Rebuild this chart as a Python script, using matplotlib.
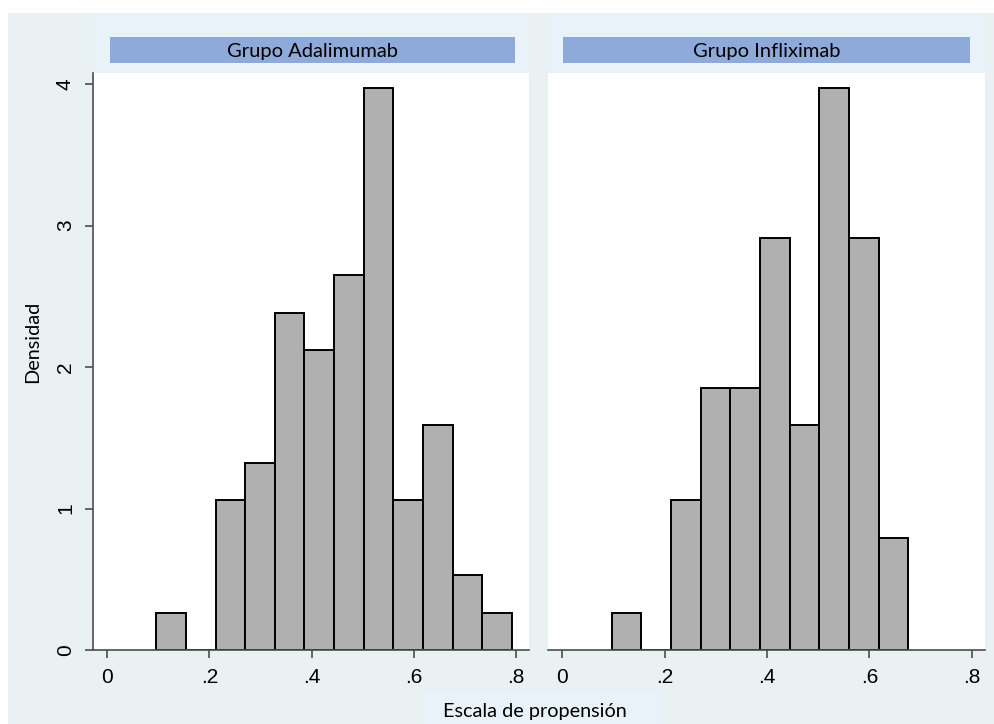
import matplotlib
matplotlib.use("Agg")
import matplotlib.pyplot as plt
from matplotlib.patches import Rectangle
import numpy as np

# datos (densidad por intervalo)
bin_start = 0.0962
bin_width = 0.058
dens_adalimumab = [0.265, 0, 1.06, 1.32, 2.38, 2.12, 2.65, 3.97, 1.06, 1.59, 0.53, 0.265]
dens_infliximab = [0.265, 0, 1.06, 1.85, 1.85, 2.91, 1.59, 3.97, 2.91, 0.79]
grupos = ["Grupo Adalimumab", "Grupo Infliximab"]
xticks = [0, 0.2, 0.4, 0.6, 0.8]
xticklabels = ["0", ".2", ".4", ".6", ".8"]
yticks = [0, 1, 2, 3, 4]

W, H = 994, 724
bg = "#e9f1f3"
light = "#e8f2f8"
strip_col = "#8eaadb"
bar_col = "#b0b0b0"
axis_col = "#4d4d4d"
lab_font = "Lato"
tick_font = "Liberation Sans"

fig = plt.figure(figsize=(W / 100, H / 100), dpi=100)

def px(x0, y0, x1, y1):
    # rectangulo en pixeles -> fraccion de figura
    return (x0 / W, 1 - y1 / H), (x1 - x0) / W, (y1 - y0) / H

def rect(x0, y0, x1, y1, color, z=0):
    xy, w, h = px(x0, y0, x1, y1)
    fig.add_artist(Rectangle(xy, w, h, transform=fig.transFigure,
                             facecolor=color, edgecolor="none", zorder=z))

# fondo
rect(8, 13, W, H, bg)
rect(93, 13, 529, 73, light)
rect(548, 13, 985, 73, light)
rect(423, 690, 662, H, light)

paneles = [(93, 529, dens_adalimumab, 110, 515), (548, 985, dens_infliximab, 563, 970)]

for i, (x0, x1, dens, s0, s1) in enumerate(paneles):
    xy, w, h = px(x0, 73, x1, 650)
    ax = fig.add_axes([xy[0], xy[1], w, h])
    ax.set_facecolor("white")
    edges = bin_start + bin_width * np.arange(len(dens))
    ax.bar(edges, dens, width=bin_width, align="edge", color=bar_col,
           edgecolor="black", linewidth=1.4, zorder=2)
    ax.set_xlim(-0.028, 0.826)
    ax.set_ylim(0, 4.078)
    ax.set_xticks(xticks)
    ax.set_xticklabels(xticklabels, fontfamily=tick_font, fontsize=15)
    for s in ["top", "right"]:
        ax.spines[s].set_visible(False)
    ax.spines["bottom"].set_color(axis_col)
    ax.spines["bottom"].set_linewidth(1.2)
    ax.tick_params(axis="x", length=6, width=1.2, color=axis_col, pad=7)
    if i == 0:
        ax.spines["left"].set_color(axis_col)
        ax.spines["left"].set_linewidth(1.2)
        ax.set_yticks(yticks)
        ax.set_yticklabels([str(v) for v in yticks], fontfamily=tick_font,
                           fontsize=15, rotation=90, va="center")
        ax.tick_params(axis="y", length=6, width=1.2, color=axis_col, pad=7)
    else:
        ax.spines["left"].set_visible(False)
        ax.set_yticks([])
    # franja del titulo
    rect(s0, 37, s1, 63, strip_col, z=1)
    fig.text((s0 + s1) / 2 / W, 1 - 51 / H, grupos[i], ha="center", va="center",
             fontfamily=lab_font, fontsize=14.5)

fig.text(535 / W, 1 - 711 / H, "Escala de propensión", ha="center", va="center",
         fontfamily=lab_font, fontsize=14.3)
fig.text(33 / W, 1 - 342 / H, "Densidad", ha="center", va="center", rotation=90,
         fontfamily=lab_font, fontsize=14.3)

fig.savefig("out.png", dpi=100, facecolor="white")
